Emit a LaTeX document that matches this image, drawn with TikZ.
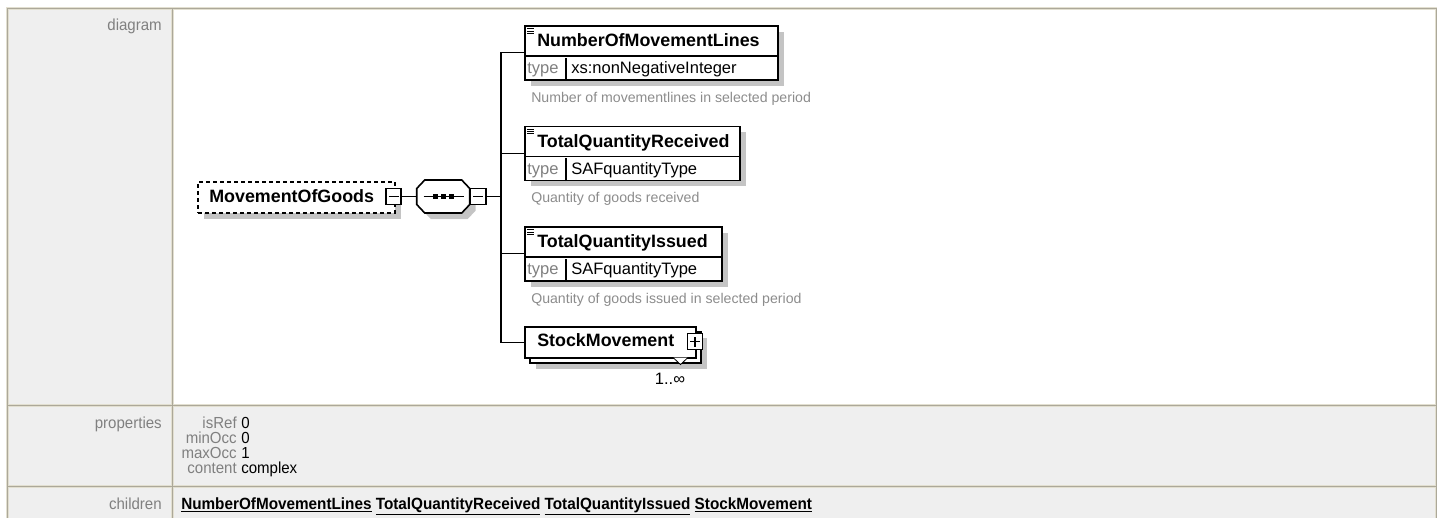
\documentclass[tikz,border=0pt]{standalone}
\usepackage{fontspec}
\setmainfont{Liberation Sans}
\newfontfamily\htmlfont{Liberation Sans}[FakeStretch=0.94]
\usepackage{xcolor}
\usepackage{tikz}
\usetikzlibrary{positioning, calc, shadows}
\definecolor{xsgray}{HTML}{808080}
\definecolor{xsdesc}{HTML}{8C8C8C}
\definecolor{xsshadow}{HTML}{C4C4C4}
\definecolor{tblbg}{HTML}{EFEFEF}
\definecolor{tbllight}{HTML}{E2DFD0}
\definecolor{tbldark}{HTML}{ACA899}
\newdimen\dpx \dpx=0.75pt

\begin{document}
\begin{tikzpicture}[x=0.75pt, y=-0.75pt,
  elembox/.style={draw, line width=1.6\dpx, fill=white, anchor=north west, inner sep=0pt},
  elem/.style={elembox, drop shadow={shadow xshift=6\dpx, shadow yshift=-6\dpx, fill=xsshadow, opacity=1}},
  optelem/.style={elem, dash pattern=on 4\dpx off 3\dpx},
  seqbox/.style={inner sep=0pt, minimum width=53\dpx, minimum height=33\dpx},
  minusbox/.style={draw, line width=1.2\dpx, fill=white, inner sep=0pt, minimum width=15\dpx, minimum height=16\dpx,
    path picture={\draw[line width=1.2\dpx] ([xshift=-5\dpx]path picture bounding box.center) -- ([xshift=5\dpx]path picture bounding box.center);}},
  plusbox/.style={minusbox,
    path picture={\draw[line width=1.2\dpx] ([xshift=-5\dpx]path picture bounding box.center) -- ([xshift=5\dpx]path picture bounding box.center)
      ([yshift=-5\dpx]path picture bounding box.center) -- ([yshift=5\dpx]path picture bounding box.center);}},
  ename/.style={font=\fontsize{13.4}{16}\selectfont\bfseries, anchor=base west, inner sep=0pt},
  tlbl/.style={font=\fontsize{12.4}{15}\selectfont, text=xsgray, anchor=base west, inner sep=0pt},
  tval/.style={font=\fontsize{12.4}{15}\selectfont, anchor=base west, inner sep=0pt},
  desc/.style={font=\fontsize{10.6}{13}\selectfont, text=xsdesc, anchor=base west, inner sep=0pt},
  conn/.style={line width=1.2\dpx},
  hlbl/.style={font=\htmlfont\fontsize{12}{14}\selectfont, text=xsgray, anchor=base east, inner sep=0pt},
  hval/.style={font=\htmlfont\fontsize{12}{14}\selectfont, anchor=base west, inner sep=0pt},
  hkid/.style={font=\htmlfont\fontsize{12.2}{14}\selectfont\bfseries, anchor=base west, inner sep=0pt}
]
  \useasboundingbox (0,0) rectangle (1437,518);

  % table cells and ridge borders
  \fill[tblbg] (7,8) rectangle (172,518);
  \fill[tblbg] (172,405) rectangle (1436,518);
  \draw[tbllight, line width=3\dpx] (7,518) -- (7,8) -- (1436,8) -- (1436,518)
    (172,8) -- (172,518) (7,405) -- (1436,405) (7,486) -- (1436,486);
  \draw[tbldark, line width=1\dpx] (7,518) -- (7,8) -- (1436,8) -- (1436,518)
    (172,8) -- (172,518) (7,405) -- (1436,405) (7,486) -- (1436,486);

  \node[hlbl] (diaglbl) at (162,30) {diagram};
  \node[hlbl] (proplbl) at (162,428) {properties};
  \node[hlbl] (kidlbl) at (162,509) {children};

  % root element and sequence
  \node[optelem, minimum width=197\dpx, minimum height=31\dpx] (mog) at (197,181) {};
  \node[ename] (mogname) at (209,202.3) {MovementOfGoods};
  \node[minusbox] (mogminus) at (393.5,196.5) {};
  \node[seqbox] (seq) at (443.5,196.5) {};
  \fill[xsshadow] ([shift={(6,6)}]seq.west) ++(0,-8) -- ++(8,-8.5) -- ++(37,0) -- ++(8,8.5) -- ++(0,16)
    -- ++(-8,8.5) -- ++(-37,0) -- ++(-8,-8.5) -- cycle;
  \draw[line width=1.6\dpx, fill=white] (seq.west) ++(0,-8) -- ++(8,-8.5) -- ++(37,0) -- ++(8,8.5) -- ++(0,16)
    -- ++(-8,8.5) -- ++(-37,0) -- ++(-8,-8.5) -- cycle;
  \node[minusbox, minimum width=16\dpx] (seqminus) at (478,196.5) {};
  \draw[line width=1.2\dpx] ($(seq.center)+(-20,0)$) -- ($(seq.center)+(20,0)$);
  \foreach \dx in {-8,0,8}
    \fill ($(seq.center)+(\dx,0)$) +(-2.5,-2.5) rectangle +(2.5,2.5);

  % child elements
  \node[elem, minimum width=253\dpx, minimum height=54\dpx] (nml) at (524,25) {};
  \node[elem, minimum width=215\dpx, minimum height=54\dpx] (tqr) at (524,125.5) {};
  \node[elem, minimum width=197\dpx, minimum height=54\dpx] (tqi) at (524,226) {};
  \node[elem, minimum width=171\dpx, minimum height=31\dpx] (smback) at (529,331) {};
  \node[elembox, minimum width=171\dpx, minimum height=31\dpx] (sm) at (524,326) {};

  \draw[line width=1.1\dpx] ($(nml.north west)+(0,31)$) -- ($(nml.north east)+(0,31)$)
    ($(nml.south west)+(42,0)$) -- ++(0,-23);
  \draw[line width=1.1\dpx] ($(tqr.north west)+(0,31)$) -- ($(tqr.north east)+(0,31)$)
    ($(tqr.south west)+(42,0)$) -- ++(0,-23);
  \draw[line width=1.1\dpx] ($(tqi.north west)+(0,31)$) -- ($(tqi.north east)+(0,31)$)
    ($(tqi.south west)+(42,0)$) -- ++(0,-23);
  \foreach \e in {nml,tqr,tqi}
    \foreach \dy in {3.7,6,8.3}
      \draw[line width=0.8\dpx] ($(\e.north west)+(3,\dy)$) -- ++(6.5,0);

  \node[ename] (nmlname) at (537,46.5) {NumberOfMovementLines};
  \node[tlbl] (nmltype) at (527,73.5) {type};
  \node[tval] (nmlval) at (571,73.5) {xs:nonNegativeInteger};
  \node[desc] (nmldesc) at (531,102) {Number of movementlines in selected period};

  \node[ename] (tqrname) at (537,147) {TotalQuantityReceived};
  \node[tlbl] (tqrtype) at (527,174) {type};
  \node[tval] (tqrval) at (571,174) {SAFquantityType};
  \node[desc] (tqrdesc) at (531,202.5) {Quantity of goods received};

  \node[ename] (tqiname) at (537,247.5) {TotalQuantityIssued};
  \node[tlbl] (tqitype) at (527,274.5) {type};
  \node[tval] (tqival) at (571,274.5) {SAFquantityType};
  \node[desc] (tqidesc) at (531,303) {Quantity of goods issued in selected period};

  \node[ename] (smname) at (537,346.5) {StockMovement};
  \node[plusbox] (smplus) at (695,341.5) {};
  \fill[white] (673,357.5) -- (680.5,364.5) -- (688,357.5) -- cycle;
  \draw[line width=0.8\dpx] (673,357.5) -- (680.5,364.5) -- (688,357.5);
  \node[tval, anchor=base] (smocc) at (670,384) {1..∞};

  % connectors
  \coordinate (bus) at (501,196.5);
  \draw[conn] (mogminus.east) -- (seq.west);
  \draw[conn] (seqminus.east) -- (bus);
  \draw[conn] (bus) |- (nml.west);
  \draw[conn] (bus) |- (tqr.west);
  \draw[conn] (bus) |- (tqi.west);
  \draw[conn] (bus) |- (sm.west);

  % properties and children
  \node[hlbl] (isref) at (237,428) {isRef};
  \node[hval] (isrefv) at (241,428) {0};
  \node[hlbl] (minocc) at (237,443) {minOcc};
  \node[hval] (minoccv) at (241,443) {0};
  \node[hlbl] (maxocc) at (237,458) {maxOcc};
  \node[hval] (maxoccv) at (241,458) {1};
  \node[hlbl] (content) at (237,473) {content};
  \node[hval] (contentv) at (241,473) {complex};
  \node[hkid] (kids) at (181,509) {\underline{NumberOfMovementLines} \underline{TotalQuantityReceived} \underline{TotalQuantityIssued} \underline{StockMovement}};
\end{tikzpicture}
\end{document}
